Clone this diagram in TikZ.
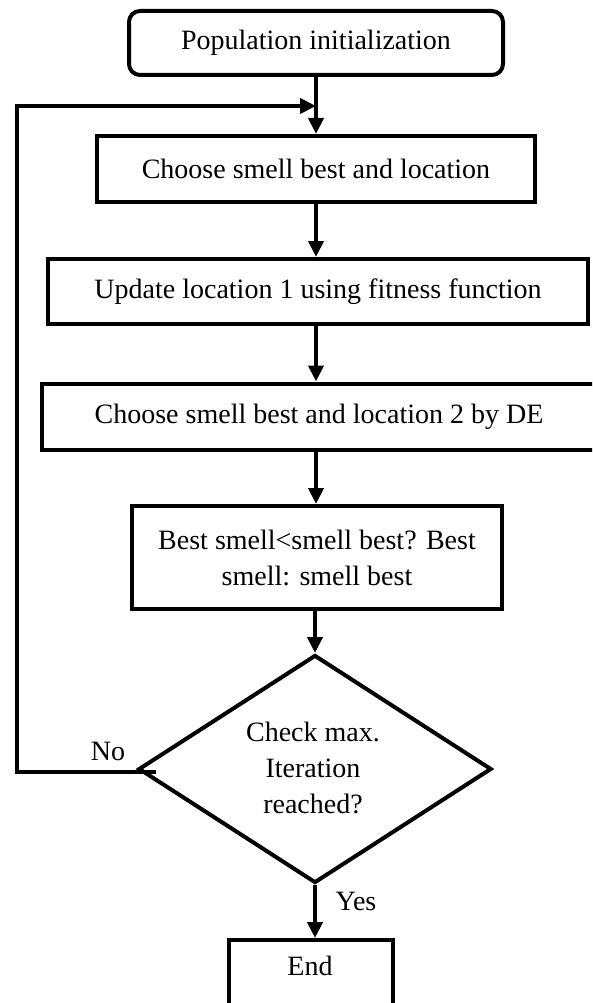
\documentclass[tikz,border=0pt]{standalone}
\usepackage{fontspec}
\setmainfont{Liberation Serif}
\usetikzlibrary{arrows.meta,shapes.geometric,calc}
\begin{document}
\begin{tikzpicture}[x=1pt,y=-1pt,
  every node/.style={font=\fontsize{28}{36}\selectfont, inner sep=0pt},
  boxstyle/.style={draw, line width=4pt, rectangle, align=center},
  roundbox/.style={boxstyle, rounded corners=11pt},
  diastyle/.style={draw, line width=4pt, diamond},
  conn/.style={line width=4pt},
  arr/.style={conn, -{Triangle[length=16pt,width=15pt]}},
  lbl/.style={}
]
\useasboundingbox (0,0) rectangle (592,1003);
\fill[white] (0,0) rectangle (592,1003);
\clip (0,0) rectangle (592,1003);

\node[roundbox, minimum width=374pt, minimum height=64pt] (init) at (316,43) {Population initialization};
\node[boxstyle, minimum width=438pt, minimum height=66pt] (b2) at (316,169) {Choose smell best and location};
\node[boxstyle, minimum width=540pt, minimum height=65pt] (b3) at (318,291.5) {Update location 1 using fitness function};
\node[boxstyle, minimum width=554pt, minimum height=66pt] (b4) at (319,416.5) {Choose smell best and location 2 by DE};
\node[boxstyle, minimum width=370pt, minimum height=103pt] (b5) at (317,557.5) {Best smell<smell best? Best\\smell: smell best};
\node[diastyle, minimum width=353pt, minimum height=228pt] (dia) at (315,769) {};
\node[align=center] (diatext) at (313,768) {Check max.\\Iteration\\reached?};
\node[boxstyle, minimum width=164pt, minimum height=80pt] (end) at (311,980) {};
\node (endtext) at (310,966) {End};

\node[lbl] (no) at (108,751) {No};
\node[lbl] (yes) at (356,901) {Yes};

\draw[arr] (init.south) -- (b2.north -| init.south);
\draw[arr] (b2.south) -- (b3.north -| b2.south);
\draw[arr] (b3.south -| b2.south) -- (b4.north -| b2.south);
\draw[arr] (b4.south -| b2.south) -- (b5.north -| b2.south);
\draw[arr] (b5.south -| dia.north) -- (dia.north);
\draw[arr] (dia.south) -- (end.north -| dia.south);

\coordinate (fb) at (17,106);
\draw[arr] ($(dia.west)+(19,3)$) -| (fb) -- (fb -| init.south);
\end{tikzpicture}
\end{document}
